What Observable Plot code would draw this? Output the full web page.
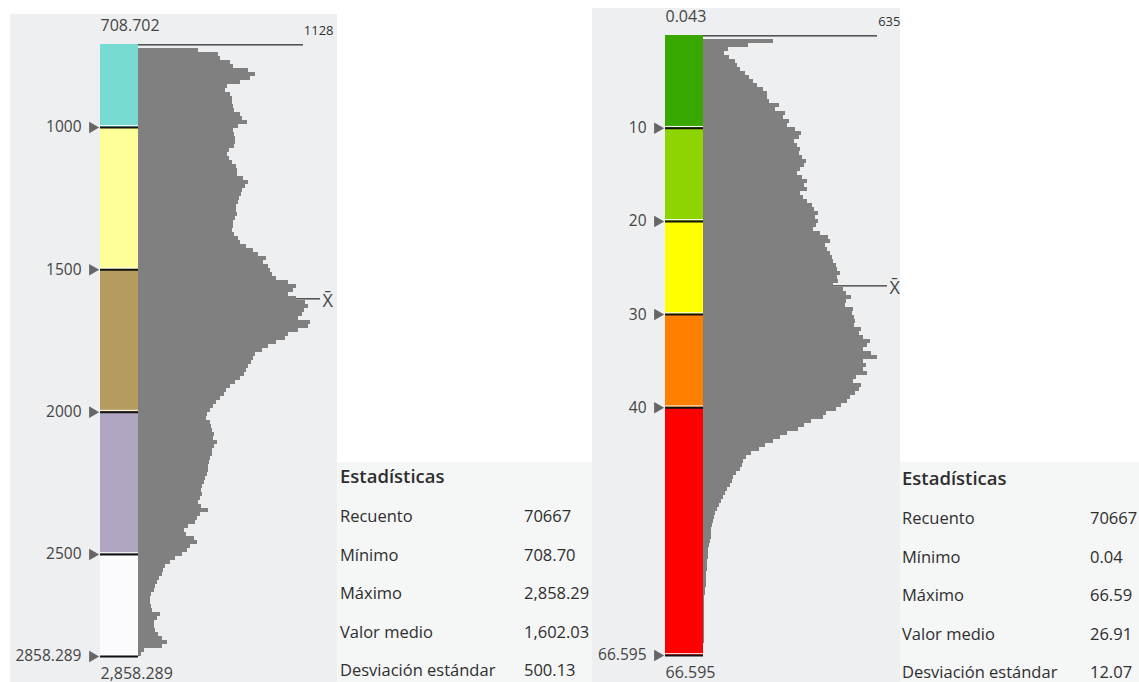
<!DOCTYPE html>
<html><head><meta charset="utf-8">
<script src="https://cdn.jsdelivr.net/npm/d3@7"></script>
<script src="https://cdn.jsdelivr.net/npm/@observablehq/plot@0.6"></script>
<style>
html,body{margin:0;padding:0;background:#fff;}
body{width:1139px;height:682px;position:relative;overflow:hidden;font-family:"Open Sans",sans-serif;}
.abs{position:absolute;}
.bg{position:absolute;background:#eeeff1;}
.stats{position:absolute;background:#f5f6f6;color:#2e2e2e;}
.stats div{position:absolute;white-space:nowrap;line-height:1;}
svg{overflow:visible;}
</style></head><body>
<script>
// ---------- data: left histogram ----------
const leftMin = 708.702, leftMax = 2858.289, leftMean = 1602.03, leftMaxCount = 1128;
const leftCounts = [1128,410,547,561,629,649,752,800,766,697,
608,595,629,643,643,649,656,697,711,745,
684,649,656,663,663,656,622,608,622,643,
670,677,677,718,752,731,711,704,690,684,
670,670,677,663,649,649,643,656,684,697,
738,786,820,875,855,889,902,916,943,1025,
1080,1060,1025,1080,1142,1162,1135,1121,1094,1176,
1162,1094,1025,1005,943,889,848,800,786,772,
752,738,725,697,663,629,602,588,561,533,
513,492,472,465,492,499,506,520,513,540,
520,506,506,492,485,479,479,472,458,451,
438,431,438,424,410,431,479,424,403,390,
342,314,328,383,403,355,335,301,253,219,
185,171,164,144,130,116,109,89,82,82,
89,96,150,130,109,109,116,137,164,198,
164,41,21];
const leftBreaks = [708.702, 1000, 1500, 2000, 2500, 2858.289];
const leftColors = ["#77dbd4", "#ffff99", "#b59b5e", "#b1a6c2", "#fbfbfd"];
const leftTicks = [1000, 1500, 2000, 2500, 2858.289];
const leftTickLabels = ["1000", "1500", "2000", "2500", "2858.289"];
const leftTopLabel = "708.702";
const leftBottomLabel = "2,858.289";

// ---------- data: right histogram ----------
const rightMin = 0.043, rightMax = 66.595, rightMean = 26.91, rightMaxCount = 635;
const rightCounts = [635,255,164,91,77,95,117,124,135,153,
168,182,197,219,234,234,241,277,263,299,
292,314,307,336,358,350,332,343,354,350,
361,376,369,354,343,361,380,369,380,354,
365,380,398,405,420,409,420,412,401,427,
456,463,445,452,463,471,474,485,489,500,
489,493,474,511,522,540,522,518,547,544,
551,555,551,577,569,584,609,598,584,613,
635,584,595,584,598,558,547,577,569,555,
536,525,504,485,449,438,394,369,347,307,
281,255,226,204,175,157,146,142,135,120,
109,106,99,88,80,73,66,58,51,44,
40,36,33,29,29,29,26,22,18,18,
18,15,15,15,11,11,11,11,7,7,
5,5,4,4,4,4,3,3,2,2,
2,2,1,1,1];
const rightBreaks = [0.043, 10, 20, 30, 40, 66.595];
const rightColors = ["#38a800", "#8ed400", "#ffff00", "#ff8000", "#ff0000"];
const rightTicks = [10, 20, 30, 40, 66.595];
const rightTickLabels = ["10", "20", "30", "40", "66.595"];
const rightTopLabel = "0.043";
const rightBottomLabel = "66.595";

// ---------- data: statistics ----------
const statsTitle = "Estadísticas";
const statNames = ["Recuento", "Mínimo", "Máximo", "Valor medio", "Desviación estándar"];
const leftStatValues = ["70667", "708.70", "2,858.29", "1,602.03", "500.13"];
const rightStatValues = ["70667", "0.04", "66.59", "26.91", "12.07"];

const FONT = "'Open Sans', sans-serif";
const TXT = "#444";

function place(node, left, top) {
  const d = document.createElement("div");
  d.className = "abs";
  d.style.left = left + "px";
  d.style.top = top + "px";
  d.appendChild(node);
  document.body.appendChild(d);
}

function panel(p) {
  const bg = document.createElement("div");
  bg.className = "bg";
  Object.assign(bg.style, {left: p.left + "px", top: p.top + "px", width: (p.cbRight + p.bW) + "px", height: p.H + "px"});
  document.body.appendChild(bg);

  const N = p.counts.length, w = (p.max - p.min) / N;
  const bins = p.counts.map((c, i) => ({y1: p.min + i * w, y2: p.min + (i + 1) * w, count: c}));
  const classes = p.colors.map((c, i) => ({y1: p.breaks[i], y2: p.breaks[i + 1], fill: c}));
  const binPx = (p.yBottom - p.yTop) / N;
  const meanCount = p.counts[Math.min(N - 1, Math.floor((p.mean - p.min) / w))];
  const yOpt = {domain: [p.min, p.max], range: [p.yTop, p.yBottom], axis: null};

  // histogram
  const b = Plot.plot({
    width: p.bW, height: p.H,
    marginLeft: 0, marginRight: p.bW - p.barPx, marginTop: p.yTop, marginBottom: p.H - p.yBottom,
    x: {domain: [0, p.maxCount], axis: null},
    y: yOpt,
    style: {background: "transparent", fontFamily: FONT, overflow: "visible"},
    marks: [
      Plot.rect(bins.slice(1), {x1: d => 0, x2: "count", y1: "y1", y2: "y2", fill: "#808080", shapeRendering: "crispEdges"}),
      Plot.rect(bins.slice(0, 1), {x1: d => 0, x2: "count", y1: "y1", y2: "y2", fill: "#555", insetBottom: binPx - 1.6}),
      Plot.ruleY([p.mean], {x1: d => meanCount, x2: d => p.maxCount * p.meanExt, stroke: "#333", strokeWidth: 1.3}),
      Plot.text([p.mean], {y: d => d, x: d => p.maxCount * p.meanExt, text: ["X̄"], dx: 2, dy: 2, textAnchor: "start", fontSize: 18, fill: TXT}),
      Plot.text([{c: p.maxCount, v: p.min}], {x: "c", y: "v", text: d => String(d.c), dx: p.maxDx, dy: -14, textAnchor: "end", fontSize: 13, fill: "#333"})
    ]
  });
  place(b, p.left + p.cbRight, p.top);

  // colour bar with class breaks
  const a = Plot.plot({
    width: p.cbRight, height: p.H,
    marginLeft: p.cbLeft, marginRight: 0, marginTop: p.yTop, marginBottom: p.H - p.yBottom,
    y: yOpt,
    color: {type: "identity"},
    style: {background: "transparent", fontFamily: FONT, overflow: "visible"},
    marks: [
      Plot.rect(classes, {y1: "y1", y2: "y2", fill: "fill", shapeRendering: "crispEdges"}),
      Plot.ruleY(p.ticks, {dy: -1.8, stroke: "#ffffff", strokeWidth: 1}),
      Plot.ruleY(p.ticks, {stroke: "#111", strokeWidth: 2}),
      Plot.text(p.ticks, {y: d => d, text: p.tickLabels, frameAnchor: "left", dx: -19, textAnchor: "end", fontSize: 15.5, fill: TXT}),
      Plot.dot(p.ticks, {y: d => d, frameAnchor: "left", dx: -8, symbol: "triangle", rotate: 90, r: 4.3, fill: "#666", stroke: null}),
      Plot.text([p.min], {y: d => d, text: [p.topLabel], frameAnchor: "left", dy: -19, textAnchor: "start", fontSize: 16, fill: TXT}),
      Plot.text([p.max], {y: d => d, text: [p.bottomLabel], frameAnchor: "left", dy: 17, textAnchor: "start", fontSize: 16, fill: TXT})
    ]
  });
  place(a, p.left, p.top);
}

panel({min: leftMin, max: leftMax, counts: leftCounts, breaks: leftBreaks, colors: leftColors,
  ticks: leftTicks, tickLabels: leftTickLabels, topLabel: leftTopLabel, bottomLabel: leftBottomLabel,
  mean: leftMean, maxCount: leftMaxCount,
  left: 10, top: 14, H: 668, yTop: 30, yBottom: 642, cbLeft: 90, cbRight: 128, bW: 199, barPx: 165, meanExt: 1.103, maxDx: 30});

panel({min: rightMin, max: rightMax, counts: rightCounts, breaks: rightBreaks, colors: rightColors,
  ticks: rightTicks, tickLabels: rightTickLabels, topLabel: rightTopLabel, bottomLabel: rightBottomLabel,
  mean: rightMean, maxCount: rightMaxCount,
  left: 592, top: 8, H: 674, yTop: 27, yBottom: 647, cbLeft: 73, cbRight: 111, bW: 197, barPx: 174, meanExt: 1.057, maxDx: 23});

function stats(box, headBase, firstBase, step, textX, valueX, values) {
  const s = document.createElement("div");
  s.className = "stats";
  Object.assign(s.style, {left: box[0] + "px", top: box[1] + "px", width: box[2] + "px", height: box[3] + "px"});
  const asc = 0.888;
  const h = document.createElement("div");
  h.textContent = statsTitle;
  Object.assign(h.style, {left: (textX - box[0]) + "px", top: (headBase - box[1] - asc * 18.5) + "px", fontSize: "18.5px", fontWeight: 600});
  s.appendChild(h);
  statNames.forEach((n, i) => {
    const base = firstBase + i * step - box[1];
    const t = document.createElement("div");
    t.textContent = n;
    Object.assign(t.style, {left: (textX - box[0]) + "px", top: (base - asc * 16.5) + "px", fontSize: "16.5px"});
    const v = document.createElement("div");
    v.textContent = values[i];
    Object.assign(v.style, {left: (valueX - box[0]) + "px", top: (base - asc * 16.5) + "px", fontSize: "16.5px"});
    s.appendChild(t); s.appendChild(v);
  });
  document.body.appendChild(s);
}
stats([337, 462, 255, 220], 483, 523, 38.5, 340, 524, leftStatValues);
stats([900, 462, 239, 220], 485, 525, 38.5, 902, 1090, rightStatValues);
</script>
</body></html>
